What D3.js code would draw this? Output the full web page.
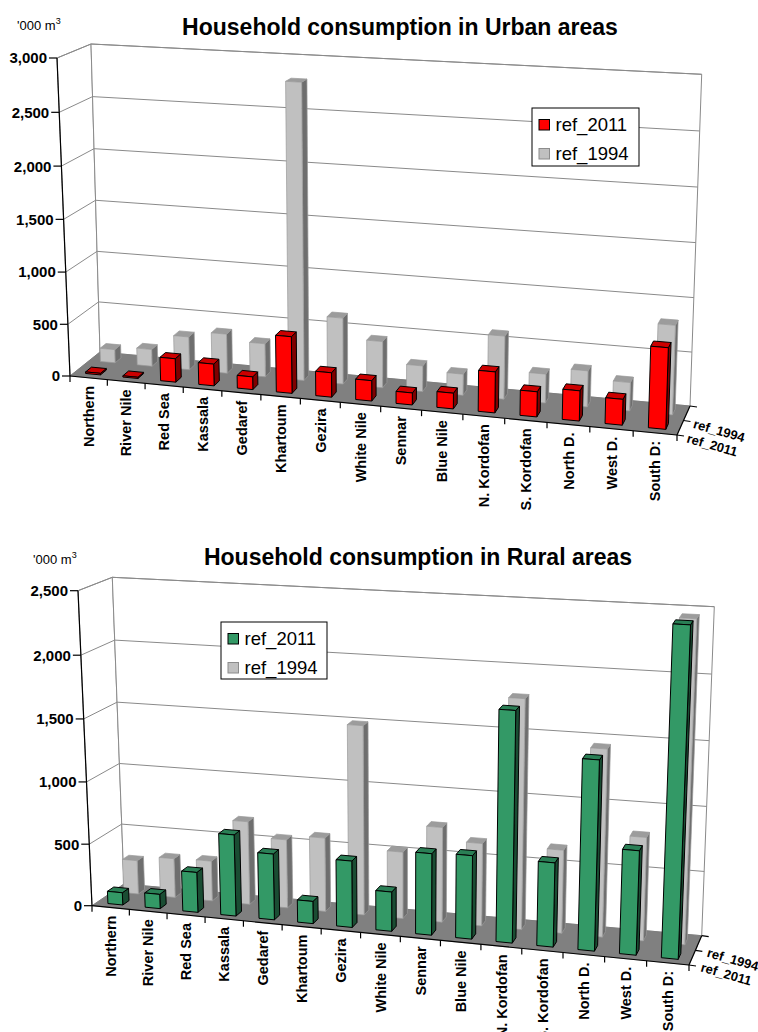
<!DOCTYPE html>
<html><head><meta charset="utf-8">
<script src="https://cdn.jsdelivr.net/npm/d3@7"></script>
<style>
body{margin:0;background:#fff}
svg{display:block}
text{font-family:Arial,"Liberation Sans",sans-serif;fill:#000}
</style>
</head><body>
<svg id="chart" width="758" height="1032"></svg>
<script>
// ---------------- data ----------------
const categories = ["Northern","River Nile","Red Sea","Kassala","Gedaref","Khartoum","Gezira","White Nile","Sennar","Blue Nile","N. Kordofan","S. Kordofan","North D.","West D.","South D:"];
const seriesNames = ["ref_2011","ref_1994"];
const urban2011 = [15, 12, 225, 208, 121, 535, 230, 191, 112, 146, 378, 231, 276, 235, 735];
const urban1994 = [130, 165, 320, 380, 320, 2800, 630, 440, 243, 200, 590, 270, 335, 262, 820];
const rural2011 = [100, 116, 322, 650, 525, 177, 525, 310, 638, 650, 1780, 650, 1455, 797, 2490];
const rural1994 = [275, 318, 325, 670, 550, 590, 1500, 530, 750, 650, 1790, 650, 1450, 800, 2460];
const urbanTicks = [0, 500, 1000, 1500, 2000, 2500, 3000];
const ruralTicks = [0, 500, 1000, 1500, 2000, 2500];

const svg = d3.select("#chart");
const fmt = d3.format(",");

function makeProject(c, kx, kv) {
  const warp = k => t => t / (t + k * (1 - t));
  const gx = warp(kx), gv = warp(kv);
  const lerp = (p, q, t) => [p[0] + (q[0] - p[0]) * t, p[1] + (q[1] - p[1]) * t];
  return (u, v, w) => {
    const a = gx(u), b = gv(v);
    const fb = lerp(c.FLB, c.FRB, a), ft = lerp(c.FLT, c.FRT, a);
    const bb = lerp(c.BLB, c.BRB, a), bt = lerp(c.BLT, c.BRT, a);
    return lerp(lerp(fb, ft, b), lerp(bb, bt, b), w);
  };
}

function drawChart(cfg) {
  const g = svg.append("g");
  const P = makeProject(cfg.box, cfg.kx, cfg.kv);
  const x = d3.scaleBand().domain(categories).range([0, 1]).paddingInner(0.6).paddingOuter(0.3);
  const z = d3.scaleBand().domain(seriesNames).range([0, 1]).paddingInner(0.6).paddingOuter(0.3);
  const y = d3.scaleLinear().domain([0, d3.max(cfg.ticks)]).range([0, 1]);
  const line = d3.line();
  const poly = pts => line(pts) + "Z";

  // walls
  g.append("path").attr("d", poly([P(0,0,0), P(0,1,0), P(0,1,1), P(0,0,1)]))
    .attr("fill", "#fff").attr("stroke", "#8a8a8a").attr("stroke-width", 1);
  g.append("path").attr("d", poly([P(0,0,1), P(0,1,1), P(1,1,1), P(1,0,1)]))
    .attr("fill", "#fff").attr("stroke", "#8a8a8a").attr("stroke-width", 1);
  // gridlines
  g.selectAll(".grid").data(cfg.ticks.filter(t => t > 0)).join("path")
    .attr("d", t => line([P(0, y(t), 0), P(0, y(t), 1), P(1, y(t), 1)]))
    .attr("fill", "none").attr("stroke", "#8a8a8a").attr("stroke-width", 1);
  // floor
  g.append("path").attr("d", poly([P(0,0,0), P(1,0,0), P(1,0,1), P(0,0,1)]))
    .attr("fill", "#808080").attr("stroke", "#777").attr("stroke-width", 0.5);

  // bars (back row first)
  const rows = [
    {name: "ref_1994", values: cfg.v1994, col: cfg.gray},
    {name: "ref_2011", values: cfg.v2011, col: cfg.main}
  ];
  rows.forEach(r => {
    const w0 = z(r.name), w1 = z(r.name) + z.bandwidth();
    const bars = categories.map((c, i) => ({c, v: r.values[i]}));
    const bg = g.append("g");
    bars.forEach(d => {
      const u0 = x(d.c), u1 = x(d.c) + x.bandwidth(), h = y(d.v);
      const bar = bg.append("g").attr("stroke", r.col.stroke).attr("stroke-width", r.col.sw).attr("stroke-linejoin", "round");
      bar.append("path").attr("d", poly([P(u1,0,w0), P(u1,0,w1), P(u1,h,w1), P(u1,h,w0)])).attr("fill", r.col.side);
      bar.append("path").attr("d", poly([P(u0,h,w0), P(u1,h,w0), P(u1,h,w1), P(u0,h,w1)])).attr("fill", r.col.top);
      bar.append("path").attr("d", poly([P(u0,0,w0), P(u1,0,w0), P(u1,h,w0), P(u0,h,w0)])).attr("fill", r.col.front);
    });
  });

  // value axis
  g.append("path").attr("d", line([P(0,0,0), P(0,1,0)])).attr("stroke", "#000").attr("stroke-width", 1.2);
  const yt = g.selectAll(".yt").data(cfg.ticks).join("g")
    .attr("transform", t => { const p = P(0, y(t), 0); return `translate(${p[0]},${p[1]})`; });
  yt.append("line").attr("x1", -8).attr("x2", 0).attr("stroke", "#000").attr("stroke-width", 1.2);
  yt.append("text").attr("x", -10).attr("dy", "0.36em").attr("text-anchor", "end")
    .attr("font-size", 15).attr("font-weight", "bold").text(t => fmt(t));

  // category axis
  g.append("path").attr("d", line([P(0,0,0), P(1,0,0)])).attr("stroke", "#000").attr("stroke-width", 1.2);
  const bounds = d3.range(categories.length + 1).map(i => i / categories.length);
  g.selectAll(".xt").data(bounds).join("line")
    .each(function(b) {
      const p = P(b, 0, 0);
      d3.select(this).attr("x1", p[0]).attr("y1", p[1]).attr("x2", p[0]).attr("y2", p[1] + 6);
    })
    .attr("stroke", "#000").attr("stroke-width", 1.2);
  g.selectAll(".xl").data(categories).join("text")
    .attr("transform", c => { const p = P(x(c) + x.bandwidth() / 2, 0, 0); return `translate(${p[0]},${p[1] + 8}) rotate(-90)`; })
    .attr("dy", "0.36em").attr("text-anchor", "end")
    .attr("font-size", 14.5).attr("font-weight", "bold").text(c => c);

  // series (depth) axis
  g.append("path").attr("d", line([P(1,0,0), P(1,0,1)])).attr("stroke", "#000").attr("stroke-width", 1.2);
  g.selectAll(".zt").data([0, 0.5, 1]).join("line")
    .each(function(w) {
      const p = P(1, 0, w);
      d3.select(this).attr("x1", p[0]).attr("y1", p[1]).attr("x2", p[0] + 7).attr("y2", p[1] + 1);
    })
    .attr("stroke", "#000").attr("stroke-width", 1.2);
  g.selectAll(".zl").data(seriesNames).join("text")
    .attr("transform", s => { const p = P(1, 0, z(s) + z.bandwidth() / 2); return `translate(${p[0] + cfg.zdx},${p[1] + cfg.zdy}) rotate(16)`; })
    .attr("dy", "0.36em").attr("font-size", 13).attr("font-weight", "bold").text(s => s);

  // legend
  const L = cfg.legend;
  const lg = g.append("g").attr("transform", `translate(${L.x},${L.y})`);
  lg.append("rect").attr("width", L.w).attr("height", L.h).attr("fill", "#fff").attr("stroke", "#000").attr("stroke-width", 1);
  const items = [{n: "ref_2011", c: cfg.main}, {n: "ref_1994", c: cfg.gray}];
  items.forEach((it, i) => {
    lg.append("rect").attr("x", 7).attr("y", 11.5 + i * 29).attr("width", 10.5).attr("height", 10.5)
      .attr("fill", it.c.front).attr("stroke", it.c.legendStroke).attr("stroke-width", 1);
    lg.append("text").attr("x", 23.5).attr("y", 22.5 + i * 29).attr("font-size", 18.5).text(it.n);
  });

  // title & unit
  g.append("text").attr("x", cfg.titleX).attr("y", cfg.titleY).attr("text-anchor", "middle")
    .attr("font-size", 23).attr("font-weight", "bold").text(cfg.title);
  const ut = g.append("text").attr("x", cfg.unitX).attr("y", cfg.unitY).attr("font-size", 13);
  ut.append("tspan").text("'000 m");
  ut.append("tspan").attr("font-size", 9).attr("dy", -6).text("3");
}

const grayCol = {front: "#c0c0c0", top: "#9c9c9c", side: "#6e6e6e", stroke: "#9a9a9a", sw: 0.7, legendStroke: "#8c8c8c"};

drawChart({
  title: "Household consumption in Urban areas", titleX: 400, titleY: 35,
  unitX: 17, unitY: 30,
  ticks: urbanTicks, v2011: urban2011, v1994: urban1994,
  main: {front: "#ff0000", top: "#cc0000", side: "#800000", stroke: "#000", sw: 1, legendStroke: "#000"},
  gray: grayCol,
  box: {FLB: [70, 376], FRB: [677, 435], BLB: [100, 352], BRB: [690, 406],
        FLT: [57, 58], FRT: [688, 92], BLT: [91, 44], BRT: [701.7, 74.3]},
  kx: 1.09, kv: 1.03, zdx: 7, zdy: 10,
  legend: {x: 532, y: 108, w: 107, h: 58}
});

drawChart({
  title: "Household consumption in Rural areas", titleX: 418, titleY: 565,
  unitX: 33, unitY: 564,
  ticks: ruralTicks, v2011: rural2011, v1994: rural1994,
  main: {front: "#339966", top: "#2a7f55", side: "#1a4d33", stroke: "#000", sw: 1, legendStroke: "#000"},
  gray: grayCol,
  box: {FLB: [92, 905.7], FRB: [689, 965], BLB: [124, 884], BRB: [701.7, 935.7],
        FLT: [78, 590.7], FRT: [702, 627.4], BLT: [112.3, 577.3], BRT: [714.3, 606.7]},
  kx: 1.07, kv: 1.03, zdx: 9, zdy: 9,
  legend: {x: 221, y: 622, w: 106, h: 57}
});
</script>
</body></html>
